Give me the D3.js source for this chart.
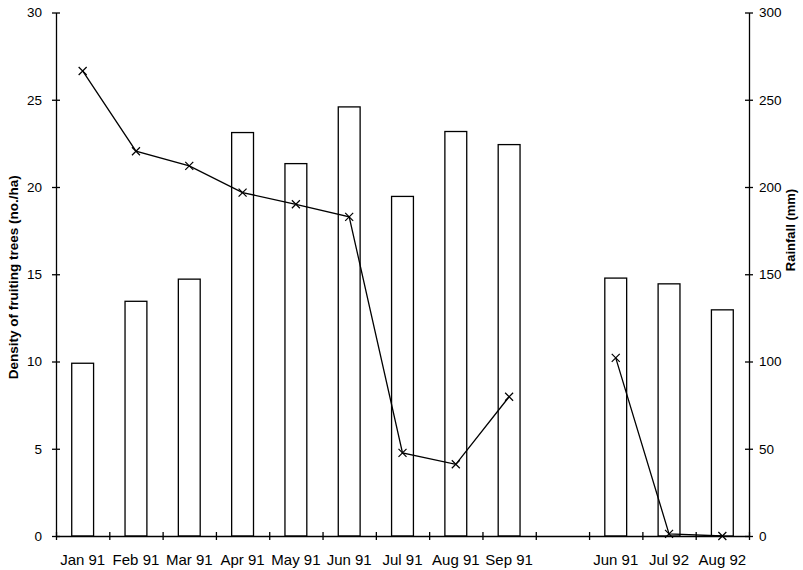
<!DOCTYPE html>
<html>
<head>
<meta charset="utf-8">
<script src="https://cdn.jsdelivr.net/npm/d3@7"></script>
<style>
  body { margin: 0; background: #fff; }
  #chart { width: 803px; height: 570px; }
  svg { font-family: "Liberation Sans", Arial, sans-serif; }
  .axis path, .axis line { stroke: #000; stroke-width: 1.3; }
  .axis text { fill: #000; }
</style>
</head>
<body>
<div id="chart"></div>
<script>
// categories (empty slot between the two survey periods)
const months = ["Jan 91", "Feb 91", "Mar 91", "Apr 91", "May 91", "Jun 91", "Jul 91",
                "Aug 91", "Sep 91", "", "Jun 91", "Jul 92", "Aug 92"];
// density of fruiting trees (no./ha) - bars, left axis
const density = [9.9, 13.45, 14.72, 23.12, 21.34, 24.59, 19.46, 23.18, 22.43, null, 14.78, 14.45, 12.96];
// rainfall (mm) - line, right axis
const rainfall = [266.5, 220.5, 212.1, 196.8, 190.1, 182.9, 47.6, 41.1, 79.8, null, 102.1, 1.2, 0];

const leftTicks = [0, 5, 10, 15, 20, 25, 30];
const rightTicks = [0, 50, 100, 150, 200, 250, 300];

const width = 803, height = 570;
const margin = {top: 12.5, left: 56, right: 54, bottom: 34};

const svg = d3.select("#chart")
    .append("svg")
    .attr("width", width)
    .attr("height", height);

const idx = d3.range(months.length);

const xScale = d3.scaleBand()
    .domain(idx)
    .range([margin.left, width - margin.right])
    .paddingInner(0)
    .paddingOuter(0);

// used only for the tick marks between categories
const xEdge = d3.scaleLinear()
    .domain([0, months.length])
    .range([margin.left, width - margin.right]);

const yLeft = d3.scaleLinear()
    .domain([0, 30])
    .range([height - margin.bottom, margin.top]);

const yRight = d3.scaleLinear()
    .domain([0, 300])
    .range([height - margin.bottom, margin.top]);

/* bars */
const barW = xScale.bandwidth() * 0.41;
svg.selectAll("rect.bar")
    .data(idx.filter(function(i) { return density[i] != null; }))
    .enter()
    .append("rect")
    .attr("class", "bar")
    .attr("x", function(i) { return xScale(i) + xScale.bandwidth() / 2 - barW / 2; })
    .attr("y", function(i) { return yLeft(density[i]); })
    .attr("width", barW)
    .attr("height", function(i) { return yLeft(0) - yLeft(density[i]); })
    .attr("fill", "#fff")
    .attr("stroke", "#000")
    .attr("stroke-width", 1.3);

/* axes */
const xAxisTicks = svg.append("g")
    .attr("class", "axis")
    .attr("transform", `translate(0,${height - margin.bottom})`)
    .call(d3.axisBottom(xEdge).tickValues(d3.range(months.length + 1)).tickSize(4).tickSizeOuter(0).tickFormat(""));
xAxisTicks.selectAll(".tick line").attr("y1", -4);

const xAxisLabels = svg.append("g")
    .attr("class", "axis")
    .attr("transform", `translate(0,${height - margin.bottom})`)
    .call(d3.axisBottom(xScale).tickSize(0).tickFormat(function(i) { return months[i]; }));
xAxisLabels.select(".domain").remove();
xAxisLabels.selectAll("text")
    .attr("y", 29)
    .attr("dy", 0)
    .attr("font-size", 15);

const yAxisL = svg.append("g")
    .attr("class", "axis")
    .attr("transform", `translate(${margin.left},0)`)
    .call(d3.axisLeft(yLeft).tickValues(leftTicks).tickSize(4).tickSizeOuter(0).tickPadding(10));
yAxisL.selectAll(".tick line").attr("x2", 4).attr("x1", -4);
yAxisL.selectAll("text").attr("font-size", 13.5);

const yAxisR = svg.append("g")
    .attr("class", "axis")
    .attr("transform", `translate(${width - margin.right},0)`)
    .call(d3.axisRight(yRight).tickValues(rightTicks).tickSize(4).tickSizeOuter(0).tickPadding(6));
yAxisR.selectAll(".tick line").attr("x1", -4).attr("x2", 4);
yAxisR.selectAll("text").attr("font-size", 13.5);

/* rainfall line */
const line = d3.line()
    .defined(function(i) { return rainfall[i] != null; })
    .x(function(i) { return xScale(i) + xScale.bandwidth() / 2; })
    .y(function(i) { return yRight(rainfall[i]); });

svg.append("path")
    .datum(idx)
    .attr("d", line)
    .attr("fill", "none")
    .attr("stroke", "#000")
    .attr("stroke-width", 1.3);

svg.selectAll("path.mark")
    .data(idx.filter(function(i) { return rainfall[i] != null; }))
    .enter()
    .append("path")
    .attr("class", "mark")
    .attr("transform", function(i) {
        return `translate(${xScale(i) + xScale.bandwidth() / 2},${yRight(rainfall[i])})`;
    })
    .attr("d", "M-4,-4L4,4M-4,4L4,-4")
    .attr("stroke", "#000")
    .attr("stroke-width", 1.2);

/* axis titles */
svg.append("text")
    .attr("transform", `translate(18,${(margin.top + height - margin.bottom) / 2 + 3}) rotate(-90)`)
    .attr("text-anchor", "middle")
    .attr("font-size", 13.5)
    .attr("font-weight", "bold")
    .text("Density of fruiting trees (no./ha)");

svg.append("text")
    .attr("transform", `translate(795,230) rotate(-90)`)
    .attr("text-anchor", "middle")
    .attr("font-size", 13)
    .attr("font-weight", "bold")
    .text("Rainfall (mm)");
</script>
</body>
</html>
